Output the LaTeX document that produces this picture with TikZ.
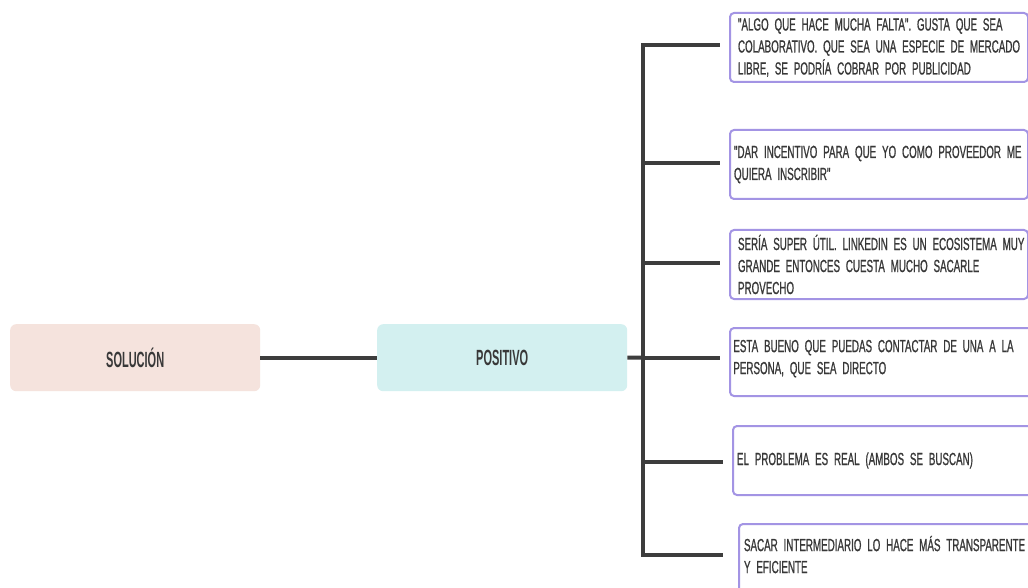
\documentclass[tikz,border=0pt]{standalone}
\usepackage{fontspec}
\newfontfamily\cardfont[FakeStretch=0.56, FakeBold=0.8]{Liberation Sans}
\newfontfamily\headfont[FakeStretch=0.5]{Liberation Sans}
\definecolor{ink}{HTML}{383838}
\definecolor{wire}{HTML}{3D3D3D}
\definecolor{lilac}{HTML}{A394E4}
\definecolor{rose}{HTML}{F5E3DD}
\definecolor{aqua}{HTML}{D3F0F0}
\newcommand\cardtype{\cardfont\fontsize{17.5}{22}\selectfont\frenchspacing
  \fontdimen2\font=3.4pt\fontdimen3\font=0.5pt\fontdimen4\font=0.5pt\relax}
% one unbreakable line of card text
\newcommand\row[1]{\mbox{#1}}
\tikzset{
  topic/.style={rounded corners=6pt, minimum width=250, minimum height=67,
    anchor=north west, inner sep=0pt, text=ink,
    font=\headfont\bfseries\fontsize{22}{24}\selectfont},
  card/.style={draw=lilac, line width=2pt, rounded corners=4pt, fill=white,
    anchor=north west, minimum height=69, align=left, text=ink,
    font=\cardtype},
  wiring/.style={draw=wire, line width=4pt}
}
\begin{document}
\begin{tikzpicture}[x=1pt, y=-1pt]
\useasboundingbox[fill=white] (0,0) rectangle (1028,588);

% main topics
\node[topic, fill=rose] (sol) at (10,324) {SOLUCIÓN};
\node[topic, fill=aqua] (pos) at (377,324) {POSITIVO};

% comment cards
\node[card, minimum width=298, text width=282] (n1) at (729,12)
  {\row{"ALGO QUE HACE MUCHA FALTA". GUSTA QUE SEA}\\\row{COLABORATIVO. QUE SEA UNA ESPECIE DE MERCADO}\\\row{LIBRE, SE PODRÍA COBRAR POR PUBLICIDAD}};
\node[card, minimum width=298, text width=290] (n2) at (729,129)
  {\row{"DAR INCENTIVO PARA QUE YO COMO PROVEEDOR ME}\\\row{QUIERA INSCRIBIR"}};
\node[card, minimum width=298, text width=282] (n3) at (729,229)
  {\row{SERÍA SUPER ÚTIL. LINKEDIN ES UN ECOSISTEMA MUY}\\\row{GRANDE ENTONCES CUESTA MUCHO SACARLE}\\\row{PROVECHO}};
\node[card, minimum width=298, minimum height=68, text width=296] (n4) at (729,327)
  {\row{ESTA BUENO QUE PUEDAS CONTACTAR DE UNA A LA}\\\row{PERSONA, QUE SEA DIRECTO}\\[-12pt]\mbox{}};
\node[card, minimum width=310, text width=302] (n5) at (732,425)
  {\row{EL PROBLEMA ES REAL (AMBOS SE BUSCAN)}};
\node[card, minimum width=310, minimum height=69, text width=300] (n6) at (738,523)
  {\row{SACAR INTERMEDIARIO LO HACE MÁS TRANSPARENTE}\\\row{Y EFICIENTE}\\[-14pt]\mbox{}};

% trunk and branch points
\coordinate (hub) at (643,357.5);
\coordinate (t1) at (643,45);
\coordinate (t2) at (643,163);
\coordinate (t3) at (643,263);
\coordinate (t4) at (643,357.5);
\coordinate (t5) at (643,462);
\coordinate (t6) at (643,555);
\coordinate (e1) at (720,45);
\coordinate (e2) at (720,163);
\coordinate (e3) at (720,263);
\coordinate (e4) at (720,357.5);
\coordinate (e5) at (723,462);
\coordinate (e6) at (723,555);

\draw[wiring] (sol.east) -- (pos.west);
\draw[wiring] (pos.east) -- (hub);
\draw[wiring, line cap=rect] (t1) -- (t6);
\foreach \i in {1,...,6} \draw[wiring] (t\i) -- (e\i);
\end{tikzpicture}
\end{document}
